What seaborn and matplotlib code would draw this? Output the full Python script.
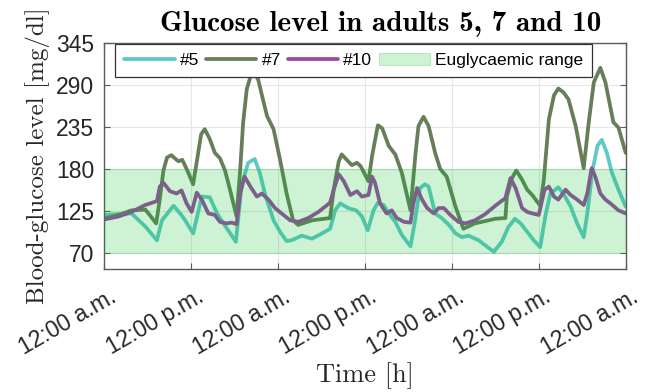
import numpy as np
import pandas as pd
import matplotlib
matplotlib.use("Agg")
import matplotlib.pyplot as plt
import matplotlib.transforms as mtransforms
import seaborn as sns

# ---------------- data (hours since start, mg/dl) ----------------
t5 = [0, 3.8, 5.7, 7.3, 8.0, 9.6, 10.5, 11.2, 12.3, 13.5, 14.6, 15.6, 16.7, 18.2,
      19.0, 19.9, 20.8, 21.5, 22.2, 23.4, 24.3, 25.2, 25.9, 27.3, 28.7, 30.1, 31.2,
      31.9, 32.6, 33.7, 34.8, 35.6, 36.4, 37.2, 37.8, 38.6, 39.3, 40.2, 41.1, 42.3,
      42.9, 43.6, 44.3, 44.8, 45.7, 46.6, 47.6, 48.5, 49.4, 50.3, 51.7, 52.8, 53.8,
      54.9, 55.8, 56.7, 57.5, 58.4, 59.3, 60.2, 60.9, 61.6, 62.7, 63.4, 64.4, 65.3,
      66.2, 66.7, 67.4, 68.1, 68.7, 69.4, 70.1, 71.0, 72.0]
g5 = [120, 122, 105, 87, 113, 132, 122, 113, 96, 144, 143, 122, 106, 85,
      160, 188, 193, 175, 148, 113, 98, 86, 87, 93, 89, 96, 102,
      126, 135, 129, 126, 118, 100, 126, 136, 133, 122, 111, 94, 79,
      111, 155, 160, 157, 122, 116, 107, 96, 91, 93, 87, 79, 72,
      85, 104, 115, 109, 98, 87, 78, 118, 148, 156, 148, 131, 109,
      91, 122, 177, 210, 218, 201, 175, 153, 131]

t7 = [0, 2.0, 3.8, 5.7, 6.3, 7.2, 7.7, 8.2, 8.7, 9.3, 10.0, 10.3, 10.8, 11.5, 12.3,
      12.9, 13.4, 13.9, 14.6, 15.3, 16.0, 16.7, 17.2, 18.3, 18.8, 19.2, 19.7, 20.2,
      20.8, 21.3, 21.8, 22.5, 23.4, 24.3, 25.2, 26.1, 26.8, 28.7, 31.2, 31.7, 32.4,
      32.8, 33.5, 34.2, 34.9, 35.4, 36.5, 37.0, 37.8, 38.4, 39.3, 40.2, 41.1, 42.3,
      43.0, 43.4, 44.1, 44.8, 45.7, 46.4, 47.3, 48.5, 49.6, 51.2, 54.0, 55.4, 55.6,
      56.3, 56.9, 57.7, 58.4, 59.1, 60.2, 60.7, 61.4, 62.1, 62.7, 63.4, 64.1, 65.1,
      66.2, 66.9, 67.6, 68.5, 69.2, 70.3, 71.0, 72.0]
g7 = [115, 120, 126, 127, 120, 109, 140, 178, 195, 198, 192, 190, 192, 178, 160,
      195, 225, 232, 219, 201, 194, 178, 160, 118, 180, 240, 284, 300,
      305, 296, 276, 249, 232, 192, 148, 113, 107, 113, 116, 153, 190,
      199, 192, 185, 188, 184, 164, 197, 237, 233, 210, 199, 175, 126,
      201, 236, 248, 236, 201, 180, 170, 131, 102, 109, 115, 116, 144,
      168, 178, 166, 153, 146, 132, 166, 245, 276, 285, 280, 271, 236,
      181, 241, 293, 312, 293, 241, 234, 201]

t10 = [0, 2.0, 3.8, 5.7, 7.3, 7.7, 8.2, 9.1, 10.0, 10.7, 11.4, 12.1, 12.8, 13.5, 14.4,
       15.3, 16.0, 16.9, 17.6, 18.3, 18.8, 19.4, 20.2, 21.1, 21.8, 22.7, 23.6, 24.5,
       25.7, 26.8, 28.2, 29.6, 31.2, 31.7, 32.4, 33.1, 34.0, 34.9, 35.6, 36.5, 37.0,
       37.4, 38.1, 39.0, 39.7, 40.4, 41.4, 42.3, 42.7, 43.2, 43.9, 44.6, 45.5, 46.2,
       46.9, 47.8, 48.9, 49.9, 51.2, 52.6, 54.0, 55.4, 56.1, 56.8, 57.7, 58.4, 59.1,
       60.0, 60.8, 61.4, 62.1, 62.7, 63.7, 64.4, 65.3, 66.2, 66.7, 67.3, 67.8, 68.5,
       69.2, 69.9, 71.0, 72.0]
g10 = [114, 118, 124, 133, 138, 157, 162, 151, 148, 152, 135, 124, 149, 140, 122,
       120, 111, 109, 110, 108, 148, 170, 157, 144, 148, 140, 129, 122,
       113, 111, 116, 124, 136, 153, 173, 164, 146, 151, 144, 146, 170,
       162, 135, 122, 126, 116, 111, 110, 135, 155, 140, 129, 122, 129,
       129, 120, 111, 109, 113, 121, 132, 142, 168, 155, 129, 124, 122,
       120, 153, 157, 144, 140, 153, 146, 140, 133, 148, 181, 170, 148,
       140, 135, 126, 122]

series_names = ["#5", "#7", "#10"]
band_low, band_high = 70, 180
band_label = "Euglycaemic range"
tick_hours = [0, 12, 24, 36, 48, 60, 72]
tick_labels = ["12:00 a.m.", "12:00 p.m.", "12:00 a.m.", "12:00 p.m.",
               "12:00 a.m.", "12:00 p.m.", "12:00 a.m."]
y_ticks = [70, 125, 180, 235, 290, 345]

# ---------------- styling ----------------
sns.set_theme(style="white")
plt.rcParams["font.family"] = ["Liberation Sans", "DejaVu Sans"]
plt.rcParams["axes.unicode_minus"] = False

colors = ["#5FC9C6", "#667F5A", "#9A48A4"]
band_color = (5 / 255, 190 / 255, 40 / 255)
txt = "#262626"
spine_c = "#5a5a5a"

fig = plt.figure(figsize=(6.48, 3.92), dpi=100)
ax = fig.add_axes([104 / 648, 1 - 268.6 / 392, (625.7 - 104) / 648, (268.6 - 42.5) / 392])

df5 = pd.DataFrame({"t": t5, "g": g5})
df7 = pd.DataFrame({"t": t7, "g": g7})
df10 = pd.DataFrame({"t": t10, "g": g10})
for d, c, n in zip([df5, df7, df10], colors, series_names):
    sns.lineplot(data=d, x="t", y="g", ax=ax, color=c, lw=2.7, label=n,
                 sort=True, estimator=None, zorder=2)

ax.axhspan(band_low, band_high, facecolor=band_color, alpha=0.2,
           edgecolor=(5 / 255, 170 / 255, 40 / 255, 0.35), lw=0.8,
           zorder=3, label=band_label)

ax.set_xlim(0, 72)
ax.set_ylim(50, 345)
ax.set_xticks(tick_hours)
ax.set_xticklabels(tick_labels)
ax.set_yticks(y_ticks)

ax.grid(True, color="#e6e6e6", lw=0.8)
ax.set_axisbelow(True)
for s in ax.spines.values():
    s.set_visible(True)
    s.set_color(spine_c)
    s.set_linewidth(1.0)

ax.tick_params(axis="both", direction="in", length=4, width=0.8, color=spine_c,
               top=True, right=True, bottom=True, left=True,
               labelcolor=txt)
ax.tick_params(axis="y", labelsize=16.5, pad=7)
ax.tick_params(axis="x", labelsize=16.5, pad=4)

offset = mtransforms.ScaledTranslation(3.5 / 72, -8 / 72, fig.dpi_scale_trans)
for lab in ax.get_xticklabels():
    lab.set_rotation(30)
    lab.set_ha("right")
    lab.set_va("top")
    lab.set_rotation_mode("anchor")
    lab.set_transform(lab.get_transform() + offset)

ax.set_xlabel("Time [h]", family="cmr10", fontsize=19, color=txt, labelpad=2)
ax.set_ylabel("Blood-glucose level [mg/dl]", family="cmr10", fontsize=18,
              color=txt, labelpad=4)
ax.set_title("Glucose level in adults 5, 7 and 10", family="cmb10",
             fontsize=21, color="black", pad=8, x=0.53)

handles, labels = ax.get_legend_handles_labels()
leg = ax.legend(handles, labels, loc="upper left", ncol=4,
                bbox_to_anchor=(0.022, 0.993), borderaxespad=0,
                fontsize=12.5, handlelength=2.9, handletextpad=0.3,
                columnspacing=0.4, frameon=True, fancybox=False,
                edgecolor="#333333", framealpha=1, borderpad=0.5)
leg.get_frame().set_linewidth(0.9)
for t in leg.get_texts():
    t.set_color("black")

fig.savefig("out.png", dpi=100)
